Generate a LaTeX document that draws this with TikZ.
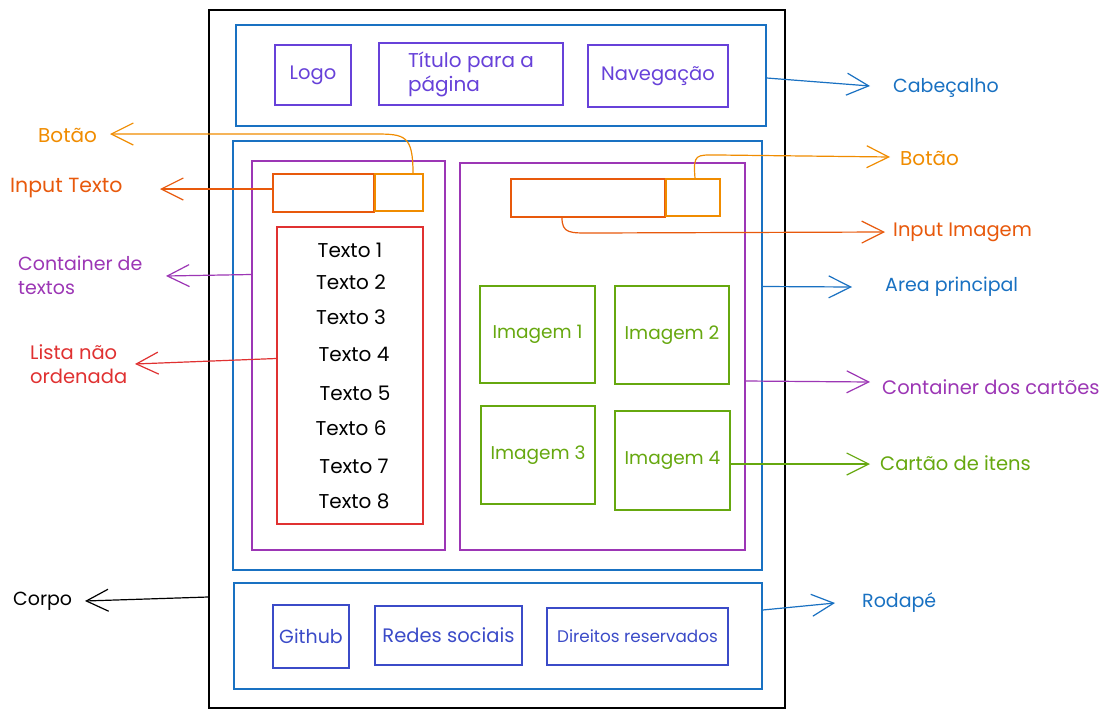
\documentclass[tikz,border=0pt]{standalone}
\usepackage{fontspec}
\setmainfont{Poppins}
\usetikzlibrary{arrows.meta}
\definecolor{cblue}{HTML}{1971C2}
\definecolor{cviolet}{HTML}{6741D9}
\definecolor{corange}{HTML}{F08C00}
\definecolor{cred}{HTML}{E8590C}
\definecolor{cpurple}{HTML}{9C36B5}
\definecolor{clist}{HTML}{E03131}
\definecolor{cgreen}{HTML}{66A80F}
\definecolor{cfoot}{HTML}{3B4BC8}
\begin{document}
\begin{tikzpicture}[x=1pt,y=-1pt,
  box/.style={draw, line width=1.3pt, inner sep=0pt, font=\fontsize{18.5}{23}\selectfont},
  lbl/.style={inner sep=0pt, align=left, font=\fontsize{19}{24}\selectfont},
  item/.style={inner sep=0pt, font=\fontsize{20}{24}\selectfont},
  arr/.style={line width=1.2pt, -{Straight Barb[length=22pt,width=22pt]}}]
\useasboundingbox (0,0) rectangle (1112,718);
\fill[white] (0,0) rectangle (1112,718);

% page structure
\node[box, draw=black, minimum width=576pt, minimum height=698pt] (outer) at (497,359) {};
\node[box, draw=cblue, minimum width=530pt, minimum height=101pt] (hdr) at (501,75.5) {};
\node[box, draw=cviolet, text=cviolet, minimum width=76pt, minimum height=60pt, font=\fontsize{19.5}{24}\selectfont] (logo) at (313,75) {Logo};
\node[box, draw=cviolet, text=cviolet, minimum width=184pt, minimum height=62pt, align=left, font=\fontsize{20}{24}\selectfont] (titulo) at (471,74) {Título para a\\página};
\node[box, draw=cviolet, text=cviolet, minimum width=140pt, minimum height=62pt, font=\fontsize{19.5}{24}\selectfont] (nav) at (658,76) {Navegação};

\node[box, draw=cblue, minimum width=529pt, minimum height=429pt] (main) at (497.5,355.5) {};
\node[box, draw=cpurple, minimum width=193pt, minimum height=389pt] (leftc) at (348.5,355.5) {};
\node[box, draw=cred, minimum width=101pt, minimum height=38pt] (intxt) at (323.5,193) {};
\node[box, draw=corange, minimum width=48pt, minimum height=37pt] (btnA) at (399,192.5) {};
\node[box, draw=clist, minimum width=146pt, minimum height=297pt] (list) at (350,375.5) {};
\node[item] (t1) at (350,250) {Texto 1};
\node[item] (t2) at (351,282) {Texto 2};
\node[item] (t3) at (351,317) {Texto 3};
\node[item] (t4) at (354,354) {Texto 4};
\node[item] (t5) at (355,393) {Texto 5};
\node[item] (t6) at (351,428) {Texto 6};
\node[item] (t7) at (354,466) {Texto 7};
\node[item] (t8) at (354,501) {Texto 8};

\node[box, draw=cpurple, minimum width=285pt, minimum height=387pt] (rightc) at (602.5,356.5) {};
\node[box, draw=cred, minimum width=154pt, minimum height=38pt] (inimg) at (588,198) {};
\node[box, draw=corange, minimum width=54pt, minimum height=37pt] (btnB) at (693,197.5) {};
\node[box, draw=cgreen, text=cgreen, minimum width=115pt, minimum height=97pt] (img1) at (537.5,334.5) {Imagem 1};
\node[box, draw=cgreen, text=cgreen, minimum width=114pt, minimum height=98pt] (img2) at (672,335) {Imagem 2};
\node[box, draw=cgreen, text=cgreen, minimum width=114pt, minimum height=98pt] (img3) at (538,455) {Imagem 3};
\node[box, draw=cgreen, text=cgreen, minimum width=115pt, minimum height=99pt] (img4) at (672.5,460.5) {Imagem 4};

\node[box, draw=cblue, minimum width=528pt, minimum height=106pt] (footer) at (498,636) {};
\node[box, draw=cfoot, text=cfoot, minimum width=76pt, minimum height=63pt, font=\fontsize{19}{22}\selectfont] (github) at (311,636.5) {Github};
\node[box, draw=cfoot, text=cfoot, minimum width=147pt, minimum height=59pt, font=\fontsize{19.5}{22}\selectfont] (redes) at (448.5,635.5) {Redes sociais};
\node[box, draw=cfoot, text=cfoot, minimum width=181pt, minimum height=57pt, font=\fontsize{16.8}{20}\selectfont] (direitos) at (637.5,636.5) {Direitos reservados};

% labels
\node[lbl, text=cblue, anchor=west] (lblCab) at (893,88) {Cabeçalho};
\node[lbl, text=corange, anchor=west, font=\fontsize{20}{24}\selectfont] (lblBotA) at (38,135) {Botão};
\node[lbl, text=cred, anchor=west, font=\fontsize{20.5}{24}\selectfont] (lblInT) at (10,188) {Input Texto};
\node[lbl, text=cpurple, anchor=west] (lblCont) at (18,275) {Container de\\textos};
\node[lbl, text=clist, anchor=west, font=\fontsize{19.5}{24}\selectfont] (lblLista) at (30,364) {Lista não\\ordenada};
\node[lbl, text=corange, anchor=west, font=\fontsize{20}{24}\selectfont] (lblBotB) at (900,158) {Botão};
\node[lbl, text=cred, anchor=west, font=\fontsize{19.5}{24}\selectfont] (lblInI) at (893,232) {Input Imagem};
\node[lbl, text=cblue, anchor=west] (lblArea) at (885,287) {Area principal};
\node[lbl, text=cpurple, anchor=west, font=\fontsize{19.5}{24}\selectfont] (lblCC) at (882,387) {Container dos cartões};
\node[lbl, text=cgreen, anchor=west, font=\fontsize{19.5}{24}\selectfont] (lblCI) at (880,463) {Cartão de itens};
\node[lbl, text=cblue, anchor=west] (lblRod) at (862,603) {Rodapé};
\node[lbl, text=black, anchor=west] (lblCorpo) at (13,601) {Corpo};

% arrow tips
\coordinate (tipCab) at (870,86);
\coordinate (tipBotA) at (110,134);
\coordinate (tipInT) at (160,189);
\coordinate (tipCont) at (166,276);
\coordinate (tipLista) at (135,364);
\coordinate (tipBotB) at (890,157);
\coordinate (tipInI) at (885,232);
\coordinate (tipArea) at (852,287);
\coordinate (tipCC) at (870,382);
\coordinate (tipCI) at (870,464);
\coordinate (tipRod) at (835,603);
\coordinate (tipCorpo) at (85,601);

% connectors
\draw[arr, cblue] ([yshift=-2.5pt]hdr.east) -- (tipCab);
\coordinate (kA) at (375,134);
\draw[arr, corange] ([xshift=14pt]btnA.north) .. controls +(0,-38) and +(30,0) .. (kA) -- (tipBotA);
\draw[arr, cred] ([yshift=4pt]intxt.west) -- (tipInT);
\draw[arr, cpurple] ([yshift=81pt]leftc.west) -- (tipCont);
\draw[arr, clist] ([yshift=17pt]list.west) -- (tipLista);
\coordinate (kB) at (718,155);
\draw[arr, corange] ([xshift=2pt]btnB.north) .. controls +(-2,-25) and +(-22,0) .. (kB) -- (tipBotB);
\coordinate (kC) at (592,233);
\draw[arr, cred] ([xshift=-26pt]inimg.south) .. controls +(0,16) and +(-22,0) .. (kC) -- (tipInI);
\draw[arr, cblue] ([yshift=69pt]main.east) -- (tipArea);
\draw[arr, cpurple] ([yshift=-24.5pt]rightc.east) -- (tipCC);
\draw[arr, cgreen] ([yshift=-3.5pt]img4.east) -- (tipCI);
\draw[arr, cblue] ([yshift=26pt]footer.east) -- (tipRod);
\draw[arr, black] ([yshift=-238pt]outer.west) -- (tipCorpo);
\end{tikzpicture}
\end{document}
